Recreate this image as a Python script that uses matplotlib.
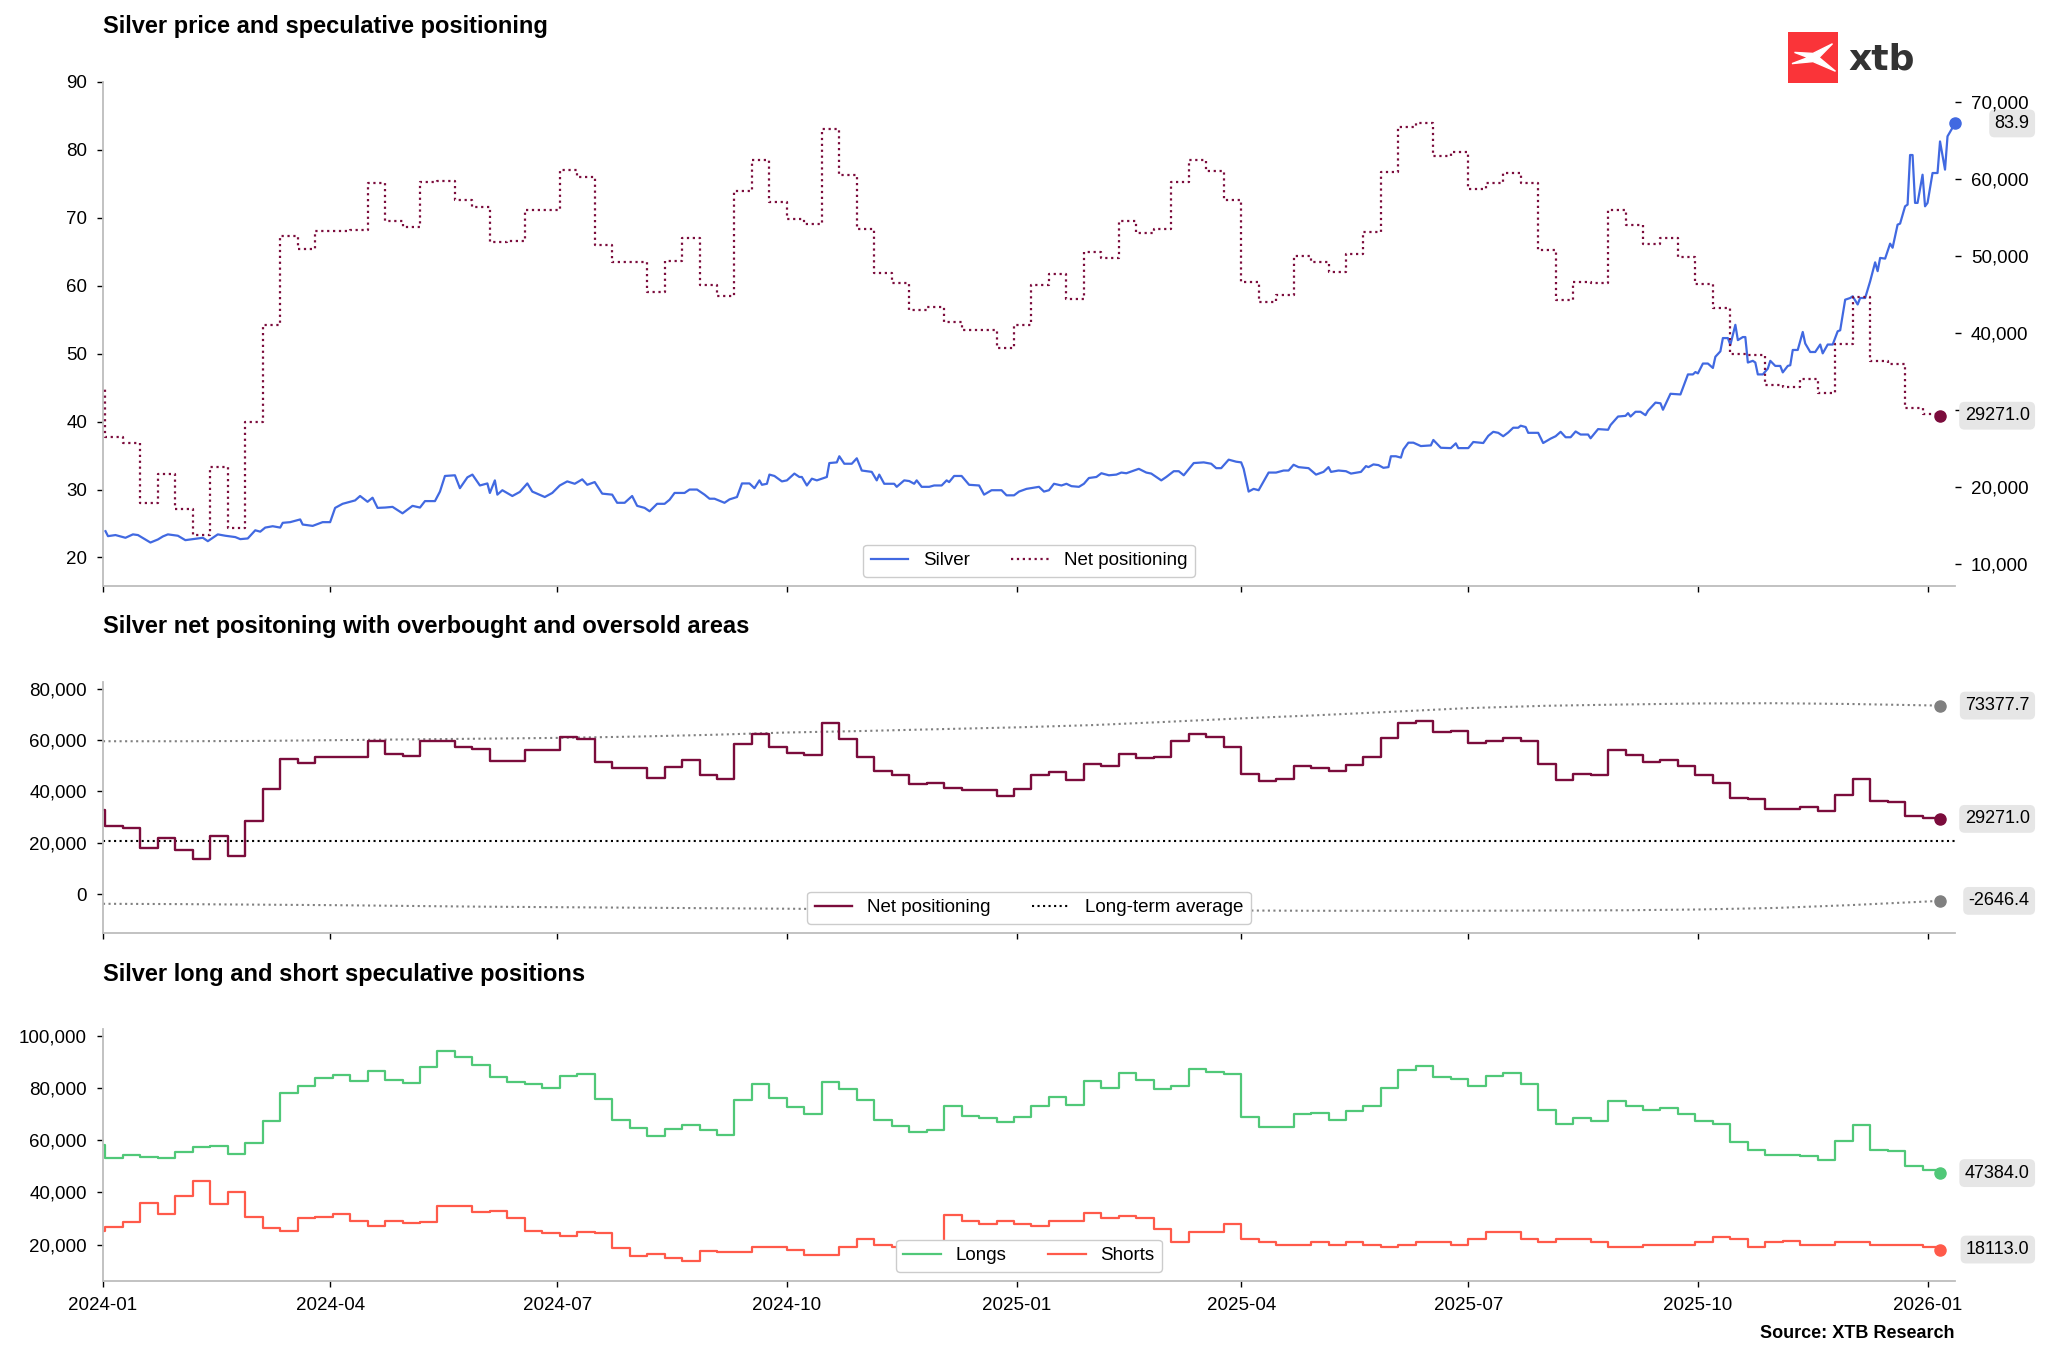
import pandas as pd
import matplotlib
matplotlib.use("Agg")
import matplotlib.pyplot as plt
import matplotlib.dates as mdates
from matplotlib.ticker import FuncFormatter, MultipleLocator
from matplotlib.transforms import blended_transform_factory
from matplotlib.patches import Rectangle, Polygon

plt.rcParams['font.family'] = ['Liberation Sans', 'DejaVu Sans']

BLUE = '#4169e1'
MAROON = '#7b0c3c'
GREEN = '#50c878'
RED = '#ff5a4a'
GREY = '#808080'
SPINE = '#bdbdbd'
LABEL_BG = '#e6e6e6'

# silver price, day offset from 2024-01-01
silver_day = [
    1, 2, 5, 9, 12, 14, 17, 19, 22, 24, 26, 30, 33, 36, 40, 42, 46, 49, 53, 55, 58, 61, 63, 65, 68, 71, 72, 75,
    79, 80, 84, 88, 91, 93, 96, 98, 101, 103, 106, 108, 110, 113, 116, 120, 124, 127, 129, 133, 135, 137, 141,
    143, 146, 148, 151, 154, 155, 157, 158, 160, 164, 167, 170, 172, 177, 180, 183, 186, 189, 192, 194, 197,
    200, 204, 206, 209, 212, 214, 217, 219, 222, 225, 227, 229, 233, 235, 238, 241, 243, 245, 249, 251, 254,
    256, 259, 261, 263, 264, 266, 267, 269, 272, 274, 277, 279, 280, 282, 284, 286, 290, 291, 294, 295, 297,
    300, 302, 304, 308, 310, 311, 313, 317, 318, 321, 323, 325, 326, 328, 331, 333, 336, 338, 339, 341, 344,
    347, 351, 353, 356, 360, 362, 365, 367, 370, 375, 377, 379, 381, 384, 386, 388, 391, 393, 395, 398, 400,
    403, 406, 408, 410, 413, 415, 418, 420, 424, 426, 429, 431, 433, 437, 441, 444, 446, 448, 451, 454, 456,
    457, 459, 461, 463, 465, 467, 470, 473, 475, 477, 479, 483, 486, 489, 491, 492, 495, 498, 500, 504, 506,
    507, 509, 511, 513, 515, 516, 518, 520, 521, 523, 525, 528, 532, 533, 536, 540, 542, 543, 547, 549, 553,
    555, 557, 559, 561, 563, 565, 567, 568, 570, 571, 575, 577, 580, 582, 584, 586, 588, 590, 592, 595, 596,
    599, 603, 604, 607, 610, 611, 612, 614, 616, 618, 619, 622, 624, 625, 628, 632, 634, 635, 637, 638, 639,
    641, 643, 645, 646, 648, 649, 651, 652, 654, 655, 657, 658, 659, 661, 662, 663, 665, 667, 668, 670, 672,
    673, 675, 676, 677, 679, 681, 682, 684, 686, 688, 689, 691, 693, 695, 696, 698, 700, 701, 703, 704, 706,
    708, 710, 711, 712, 714, 716, 717, 719, 720, 722, 723, 724, 725, 726, 727, 729, 730, 731, 733, 735, 736,
    738, 739, 742,
]
silver_price = [
    23.87, 23.14, 23.3, 22.9, 23.4, 23.3, 22.65, 22.2, 22.65, 23.1, 23.4, 23.2, 22.55, 22.7, 22.9, 22.4, 23.4,
    23.2, 23.0, 22.7, 22.8, 24.0, 23.8, 24.4, 24.6, 24.4, 25.1, 25.2, 25.6, 24.85, 24.65, 25.2, 25.2, 27.3,
    27.9, 28.1, 28.4, 29.05, 28.2, 28.8, 27.3, 27.35, 27.45, 26.5, 27.6, 27.35, 28.3, 28.3, 29.7, 32.0, 32.1,
    30.2, 31.8, 32.2, 30.6, 30.9, 29.5, 31.35, 29.25, 29.9, 29.05, 29.65, 30.9, 29.7, 28.9, 29.5, 30.6, 31.2,
    30.85, 31.5, 30.7, 31.1, 29.4, 29.25, 28.05, 28.05, 29.05, 27.6, 27.3, 26.8, 27.9, 27.9, 28.5, 29.5, 29.5,
    30.0, 30.0, 29.25, 28.65, 28.65, 28.05, 28.55, 28.9,
    30.9, 30.9, 30.2, 31.35, 30.7, 30.85, 32.2, 32.0, 31.2, 31.35, 32.35, 31.85, 31.85, 30.6, 31.6, 31.35,
    31.85, 33.9, 34.0, 34.9, 33.8, 33.8, 34.6, 32.8, 32.6, 31.35, 32.2, 30.85, 30.85, 30.4, 31.35, 31.25,
    30.85, 31.35, 30.4, 30.4, 30.6, 30.6, 31.35, 31.1, 32.0, 32.0, 30.7, 30.6, 29.25, 29.9, 29.9, 29.15,
    29.15, 29.7, 30.1, 30.4, 29.7, 29.9, 30.85, 30.6, 30.85, 30.5, 30.4, 30.85, 31.7, 31.85, 32.4, 32.1,
    32.2, 32.5, 32.4, 32.8, 33.05, 32.5, 32.35, 31.35, 31.85, 32.7, 32.7, 32.1, 33.9, 34.0, 33.8, 33.15,
    33.15, 34.4, 34.1, 34.0, 33.05, 29.7, 30.1, 29.9, 31.2, 32.5, 32.5, 32.8, 32.8, 33.65, 33.3, 33.15, 32.2,
    32.6, 33.3, 32.6, 32.8, 32.7, 32.35, 32.6, 33.45,
    33.3, 33.7, 33.6, 33.2, 33.3, 34.9, 34.9, 34.7, 35.9, 36.9, 36.9, 36.4, 36.5, 37.3, 36.15, 36.1, 36.8,
    36.1, 36.1, 37.0, 36.85, 37.9, 38.5, 38.35, 37.85, 38.4, 39.1, 39.1, 39.4, 39.2, 38.35, 38.35, 36.85,
    37.5, 37.85, 38.5, 37.7, 37.7, 38.55, 38.1, 38.1, 37.55, 38.9, 38.8, 39.5, 40.75, 40.85, 41.25, 40.75,
    41.45, 41.45, 40.95, 41.6, 42.8, 42.7, 41.75, 44.1, 44.0, 45.95, 46.95, 46.95, 47.3, 47.1, 48.55, 48.55,
    47.9, 49.55, 50.35, 52.3, 52.3, 51.3, 54.25, 52.0, 52.45, 52.45, 48.7, 48.95, 48.7, 46.95, 46.95, 47.8,
    48.95, 48.2, 48.2, 47.25, 48.2, 48.3, 50.55, 50.55, 53.2, 51.5, 50.25, 50.25, 51.35, 50.05, 51.35, 51.35,
    53.3, 53.45, 57.95, 58.2, 58.45, 57.25, 58.2, 58.2, 60.65, 63.45, 62.15, 64.1, 64.0, 66.2, 65.6, 69.0,
    69.15, 71.7, 71.95, 79.25, 79.25, 72.2, 72.2, 76.35, 71.7, 72.2, 76.6, 76.6, 81.25, 77.1, 82.0, 83.9,
]

# weekly COT data, first report 2023-12-26
net_positioning = [
    32800, 26540, 25760, 17880, 21650, 17100, 13850, 22640, 14720, 28490, 41050, 52600, 50900, 53260, 53300,
    53400, 59450, 54600, 53700, 59580, 59750, 57300, 56400, 51800, 52000, 56000, 56000, 61180, 60300, 51440,
    49190, 49190, 45380, 49400, 52300, 46240, 44810, 58370, 62400, 57070, 54800, 54170, 66460, 60530, 53470,
    47840, 46550, 43000, 43430, 41480, 40400, 40400, 38010, 41050, 46240, 47670, 44470, 50490, 49790, 54600,
    52950, 53470, 59580, 62400, 61090, 57280, 46680, 44080, 44940, 50050, 49270, 47890, 50230, 53170, 60870,
    66700, 67260, 63000, 63480, 58700, 59520, 60740, 59520, 50740, 44300, 46610, 46520, 55960, 54000, 51610,
    52350, 49870, 46390, 43260, 37260, 37170, 33260, 33000, 34090, 32260, 38560, 44650, 36390, 35960, 30220,
    29440, 29271,
]
longs = [
    58100, 53000, 54300, 53500, 53100, 55600, 57200, 57700, 54700, 59100, 67400, 77900, 80800, 83650, 85100,
    82500, 86300, 83100, 81900, 88100, 94250, 91700, 88800, 84300, 82100, 81600, 80000, 84500, 85200, 75600,
    67700, 64750, 61550, 64250, 65900, 63740, 61810, 75370, 81400, 76070, 72800, 70170, 82460, 79530, 75470,
    67840, 65550, 63000, 63930, 72980, 69400, 68400, 67010, 69050, 73240, 76670, 73470, 82490, 79790, 85600,
    82950, 79470, 80580, 87400, 86090, 85280, 68680, 65080, 64940, 70050, 70270, 67890, 71230, 73170, 79870,
    86700, 88260, 84000, 83480, 80700, 84520, 85740, 81520, 71740, 66300, 68610, 67520, 74960, 73000, 71610,
    72350, 69870, 67390, 66260, 59260, 56170, 54260, 54500, 54090, 52260, 59560, 65650, 56390, 55960, 50220,
    48440, 47384,
]
shorts = [
    25300, 26700, 28600, 35760, 31540, 38700, 44440, 35380, 40230, 30650, 26300, 25400, 30000, 30500, 31900,
    29100, 26950, 28860, 28100, 28700, 34600, 34600, 32570, 32700, 30140, 25400, 24270, 23370, 25000, 24400,
    18520, 15700, 16350, 14700, 13800, 17500, 17000, 17000, 19000, 19000, 18000, 16000, 16000, 19000, 22000,
    20000, 19000, 20000, 20500, 31500, 29000, 28000, 29000, 28000, 27000, 29000, 29000, 32000, 30000, 31000,
    30000, 26000, 21000, 25000, 25000, 28000, 22000, 21000, 20000, 20000, 21000, 20000, 21000, 20000, 19000,
    20000, 21000, 21000, 20000, 22000, 25000, 25000, 22000, 21000, 22000, 22000, 21000, 19000, 19000, 20000,
    20000, 20000, 21000, 23000, 22000, 19000, 21000, 21500, 20000, 20000, 21000, 21000, 20000, 20000, 20000,
    19000, 18113,
]

# overbought / oversold bands and long-term average
band_date = [
    '2024-01-01', '2024-02-01', '2024-03-01', '2024-04-01', '2024-05-01', '2024-06-01', '2024-07-01',
    '2024-08-01', '2024-09-01', '2024-10-01', '2024-11-01', '2024-12-01', '2025-01-01', '2025-02-01',
    '2025-03-01', '2025-04-01', '2025-05-01', '2025-06-01', '2025-07-01', '2025-08-01', '2025-09-01',
    '2025-10-01', '2025-11-01', '2025-12-01', '2026-01-06',
]
band_upper = [
    59500, 59500, 59600, 59900, 60200, 60500, 60800, 61300, 62000, 62900, 63500, 64200, 64900, 65800,
    67000, 68400, 69600, 71000, 72400, 73300, 73800, 74200, 74300, 74000, 73377.7,
]
band_lower = [
    -3780, -3900, -4100, -4300, -4600, -4900, -5100, -5300, -5500, -5700, -5900, -6000, -6100, -6200,
    -6300, -6400, -6500, -6500, -6500, -6400, -6300, -6000, -5400, -4300, -2646.4,
]
long_term_avg = 20800

silver_dates = pd.Timestamp('2024-01-01') + pd.to_timedelta(silver_day, unit='D')
cot_dates = pd.date_range('2023-12-26', periods=len(net_positioning), freq='7D')
band_dates = pd.to_datetime(band_date)

W, H = 2048, 1362
fig = plt.figure(figsize=(W / 100, H / 100), dpi=100)


def box(l, t, r, b):
    return [l / W, 1 - b / H, (r - l) / W, (b - t) / H]


def style(ax):
    for s in ['top', 'right']:
        ax.spines[s].set_visible(False)
    for s in ['left', 'bottom']:
        ax.spines[s].set_color(SPINE)
        ax.spines[s].set_linewidth(1.3)
    ax.tick_params(labelsize=13.5, length=4.5, width=1, pad=7)


def tag(ax, y, text):
    tr = blended_transform_factory(ax.transAxes, ax.transData)
    ax.text(1.0403, y, text, transform=tr, ha='right', va='center', fontsize=13, clip_on=False, zorder=6,
            bbox=dict(boxstyle='round,pad=0.3', fc=LABEL_BG, ec='none'))


thousands = FuncFormatter(lambda v, p: f'{v:,.0f}')
# the 30,000 label on the right axis sits under the net positioning tag
right_fmt = FuncFormatter(lambda v, p: '' if abs(v - 30000) < 1 else f'{v:,.0f}')

ax1 = fig.add_axes(box(103, 82, 1955, 586))
ax2 = ax1.twinx()
axm = fig.add_axes(box(103, 682, 1955, 933), sharex=ax1)
axb = fig.add_axes(box(103, 1029, 1955, 1281), sharex=ax1)

# top panel
style(ax1)
for s in ax2.spines.values():
    s.set_visible(False)
ax2.tick_params(labelsize=13.5, length=4.5, width=1, pad=7)
l1, = ax1.plot(silver_dates, silver_price, color=BLUE, lw=1.6, label='Silver')
l2, = ax2.plot(cot_dates, net_positioning, color=MAROON, lw=1.6, ls=':', drawstyle='steps-post',
               label='Net positioning')
ax1.plot(silver_dates[-1], silver_price[-1], 'o', color=BLUE, ms=8, clip_on=False, zorder=5)
ax2.plot(cot_dates[-1], net_positioning[-1], 'o', color=MAROON, ms=8, clip_on=False, zorder=5)
ax1.set_ylim(15.8, 90)
ax1.yaxis.set_major_locator(MultipleLocator(10))
ax2.set_ylim(7170, 72580)
ax2.yaxis.set_major_locator(MultipleLocator(10000))
ax2.yaxis.set_major_formatter(right_fmt)
tag(ax1, silver_price[-1], f'{silver_price[-1]:.1f}')
tag(ax2, net_positioning[-1], f'{net_positioning[-1]:.1f}')
ax2.legend([l1, l2], ['Silver', 'Net positioning'], loc='lower center', ncol=2, fontsize=13.5,
           edgecolor='#cccccc', framealpha=1, columnspacing=2.2)

# middle panel
style(axm)
axm.plot(band_dates, band_upper, color=GREY, ls=':', lw=1.5)
axm.plot(band_dates, band_lower, color=GREY, ls=':', lw=1.5)
la = axm.axhline(long_term_avg, color='black', ls=':', lw=1.5)
ln, = axm.plot(cot_dates, net_positioning, color=MAROON, lw=1.7, drawstyle='steps-post')
axm.plot(band_dates[-1], band_upper[-1], 'o', color=GREY, ms=8, clip_on=False, zorder=5)
axm.plot(band_dates[-1], band_lower[-1], 'o', color=GREY, ms=8, clip_on=False, zorder=5)
axm.plot(cot_dates[-1], net_positioning[-1], 'o', color=MAROON, ms=8, clip_on=False, zorder=5)
axm.set_ylim(-15150, 82560)
axm.yaxis.set_major_locator(MultipleLocator(20000))
axm.yaxis.set_major_formatter(thousands)
tag(axm, band_upper[-1], f'{band_upper[-1]:.1f}')
tag(axm, net_positioning[-1], f'{net_positioning[-1]:.1f}')
tag(axm, band_lower[-1], f'{band_lower[-1]:.1f}')
axm.legend([ln, la], ['Net positioning', 'Long-term average'], loc='lower center', ncol=2, fontsize=13.5,
           edgecolor='#cccccc', framealpha=1, columnspacing=2.2)

# bottom panel
style(axb)
lg, = axb.plot(cot_dates, longs, color=GREEN, lw=1.6, drawstyle='steps-post')
ls_, = axb.plot(cot_dates, shorts, color=RED, lw=1.6, drawstyle='steps-post')
axb.plot(cot_dates[-1], longs[-1], 'o', color=GREEN, ms=8, clip_on=False, zorder=5)
axb.plot(cot_dates[-1], shorts[-1], 'o', color=RED, ms=8, clip_on=False, zorder=5)
axb.set_ylim(6060, 102570)
axb.yaxis.set_major_locator(MultipleLocator(20000))
axb.yaxis.set_major_formatter(thousands)
tag(axb, longs[-1], f'{longs[-1]:.1f}')
tag(axb, shorts[-1], f'{shorts[-1]:.1f}')
axb.legend([lg, ls_], ['Longs', 'Shorts'], loc='lower center', ncol=2, fontsize=13.5,
           edgecolor='#cccccc', framealpha=1, columnspacing=2.2)

axb.set_xlim(pd.Timestamp('2024-01-01'), pd.Timestamp('2026-01-12'))
axb.xaxis.set_major_locator(mdates.MonthLocator(bymonth=[1, 4, 7, 10]))
axb.xaxis.set_major_formatter(mdates.DateFormatter('%Y-%m'))
ax1.tick_params(labelbottom=False)
axm.tick_params(labelbottom=False)

# titles and source
fig.text(103 / W, 1 - 26 / H, 'Silver price and speculative positioning', fontsize=17, weight='bold', va='center')
fig.text(103 / W, 1 - 627 / H, 'Silver net positoning with overbought and oversold areas', fontsize=17,
         weight='bold', va='center')
fig.text(103 / W, 1 - 974 / H, 'Silver long and short speculative positions', fontsize=17, weight='bold',
         va='center')
fig.text(1955 / W, 1 - 1333 / H, 'Source: XTB Research', fontsize=13, weight='bold', ha='right', va='center')

# logo
lax = fig.add_axes(box(1788, 32, 1838, 83))
lax.set_axis_off()
lax.set_xlim(0, 1)
lax.set_ylim(0, 1)
lax.add_patch(Rectangle((0, 0), 1, 1, color='#fa3439'))
lax.add_patch(Polygon([(0.13, 0.60), (0.50, 0.58), (0.89, 0.77), (0.62, 0.50), (0.95, 0.23),
                       (0.50, 0.42), (0.08, 0.38), (0.40, 0.50)], closed=True, color='white'))
fig.text(1848 / W, 1 - 70 / H, 'xtb', fontsize=26, weight='bold', color='#333333', va='baseline',
         family='DejaVu Sans')

fig.savefig('out.png', dpi=100)
